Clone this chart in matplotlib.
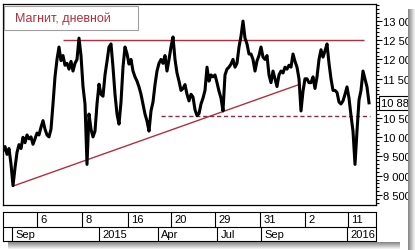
import numpy as np
import matplotlib.pyplot as plt
from matplotlib.patches import Rectangle
from matplotlib.ticker import MultipleLocator, FuncFormatter

plt.rcParams['font.family'] = ['Liberation Sans', 'DejaVu Sans']

# Магнит, дневной: цена (шаг ~2 торговых дня, авг 2014 - фев 2016)
price = [9640, 9750, 9550, 9700, 9300, 8740, 9200, 9600, 9800, 9700,
         9990, 9850, 10050, 9950, 10000, 9810, 9950, 10100, 10050, 10250,
         10420, 10200, 10050, 10000, 10200, 10850, 11550, 12000, 12320, 11970,
         12100, 11850, 11900, 11750, 11950, 11700, 11900, 12000, 12550, 12100,
         11300, 10850, 9290, 10590, 10200, 10000, 10150, 10850, 11360, 11100,
         11050, 11600, 11950, 12320, 12400, 11800, 11100, 10590, 10330, 10900,
         11800, 12320, 12150, 11880, 12000, 11700, 11550, 11440, 11290, 11100,
         10850, 10590, 10410, 10150, 10670, 10900, 11350, 11700, 11900, 12000,
         11900, 12100, 11700, 12000, 12320, 12580, 12000, 11650, 11440, 11200,
         11250, 11350, 11100, 10930, 11100, 11030, 10700, 10550, 10600, 10850,
         11000, 11200, 11800, 11440, 11600, 11550, 11600, 11400, 11180, 11000,
         10670, 11600, 11750, 11800, 11880, 12000, 11800, 11900, 12320, 12600,
         12990, 12550, 12400, 12140, 12140, 12000, 11700, 11960, 12100, 12320,
         12060, 12000, 12100, 11600, 11400, 11700, 11500, 11300, 11600, 11700,
         11650, 11800, 11750, 11850, 11800, 12140, 11950, 11800, 11500, 10670,
         11180, 11500, 11500, 11400, 11400, 11550, 11250, 11550, 12000, 12250,
         12060, 12220, 12400, 11900, 11500, 11200, 11200, 11150, 10900, 10850,
         10930, 11100, 11290, 11000, 10550, 10150, 9290, 10150, 10950, 11200,
         11700, 11500, 11290, 10880]

# уровни и линии
resist = 12500
support = 10550
trend = [8730, 11360]
last_price = 10880

# подписи шкалы времени
day_labels = ['6', '8', '16', '20', '29', '31', '2', '11']
day_pos = [17, 39.5, 62.5, 84, 106, 128.5, 151, 172.5]
month_labels = ['Sep', '2015', 'Apr', 'Jul', 'Sep', '2016']
month_pos = [4.5, 48, 77.5, 107, 129, 172]

red = '#b03040'
W, H = 415, 251


def fmt(v, p=None):
    # метка рядом с текущей ценой не выводится
    if abs(v - last_price) < 200:
        return ''
    return f'{int(v):,}'.replace(',', ' ')


fig = plt.figure(figsize=(W / 100, H / 100), dpi=100)

# основной график
ax = fig.add_axes([3 / W, 1 - 206 / H, 373 / W, 201 / H])
x = np.arange(len(price))
ax.plot(x, price, color='black', lw=2.2, zorder=3)
ax.plot([5, 148.5], trend, color=red, lw=1, zorder=2)
ax.hlines(resist, 30, 180.5, color=red, lw=1, zorder=2)
ax.hlines(support, 79, 183.5, color='#803040', lw=1, linestyles=(0, (3, 2)), zorder=2)
ax.set_xlim(0, 186.5)
ax.set_ylim(8242, 13431)
ax.set_xticks([])
ax.yaxis.tick_right()
ax.yaxis.set_major_locator(MultipleLocator(500))
ax.yaxis.set_minor_locator(MultipleLocator(100))
ax.yaxis.set_major_formatter(FuncFormatter(fmt))
ax.tick_params(axis='y', which='major', length=4, width=0.8, labelsize=8, pad=1)
ax.tick_params(axis='y', which='minor', length=2, width=0.8)
for s in ax.spines.values():
    s.set_linewidth(0.9)

# текущая цена
ax.text(1.014, last_price, f'{last_price:,}'.replace(',', ' '), transform=ax.get_yaxis_transform(),
        fontsize=8, va='center', ha='left', clip_on=False,
        bbox=dict(boxstyle='square,pad=0.2', fc='white', ec='black', lw=0.8))

# шкала дат
ax2 = fig.add_axes([3 / W, 1 - 242 / H, 373 / W, 29 / H])
ax2.set_xlim(0, 186.5)
ax2.set_ylim(0, 2)
ax2.set_xticks([])
ax2.set_yticks([])
ax2.axhline(1, color='black', lw=0.8)
ax2.vlines(day_pos, 1, 2, color='black', lw=0.8)
ax2.vlines(month_pos, 0, 1, color='black', lw=0.8)
for p, t in zip(day_pos, day_labels):
    ax2.text(p + 1.7, 1.5, t, fontsize=8, va='center', ha='left')
for p, t in zip(month_pos, month_labels):
    ax2.text(p + 1.7, 0.5, t, fontsize=8, va='center', ha='left')
for s in ax2.spines.values():
    s.set_linewidth(0.8)

# заголовок
fig.patches.append(Rectangle((3.5 / W, 1 - 30.5 / H), 134.5 / W, 24 / H, transform=fig.transFigure,
                             fc='white', ec='#a0a0a0', lw=0.8, zorder=4))
fig.text(15 / W, 1 - 18.5 / H, 'Магнит, дневной', color=red, fontsize=9, va='center', zorder=5)

# тень справа и снизу
shades = ['#8a8a8a', '#9a9a9a', '#ababab', '#bcbcbc', '#cdcdcd', '#dedede', '#eeeeee']
for k, c in enumerate(shades):
    fig.patches.append(Rectangle(((408 + k) / W, 0), 1 / W, 1 - 10 / H, transform=fig.transFigure,
                                 fc=c, ec='none', zorder=6))
    fig.patches.append(Rectangle((8 / W, (7 - k) / H), (400 - 8) / W, 1 / H, transform=fig.transFigure,
                                 fc=c, ec='none', zorder=6))

fig.savefig('out.png', dpi=100)
